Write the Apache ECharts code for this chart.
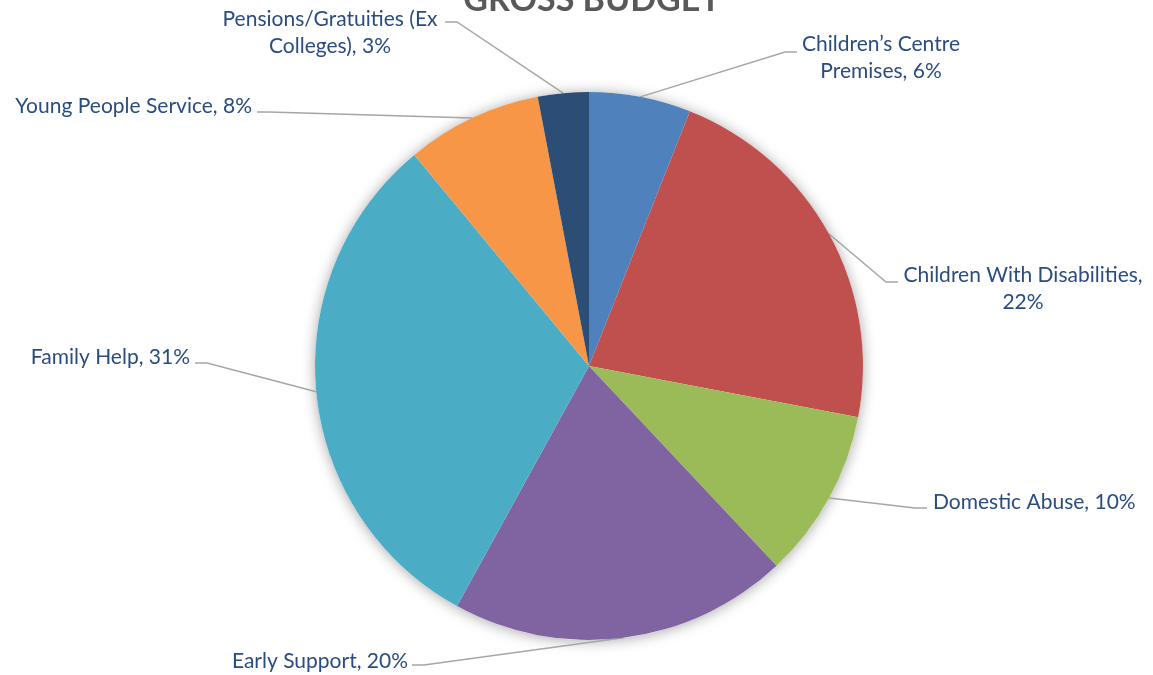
<!DOCTYPE html>
<html>
<head>
<meta charset="utf-8">
<script src="https://cdn.jsdelivr.net/npm/echarts@6/dist/echarts.min.js"></script>
<style>
  html, body { margin: 0; padding: 0; background: #ffffff; }
  #chart { width: 1153px; height: 675px; }
</style>
</head>
<body>
<div id="chart"></div>
<script>
// Gross budget split by service area (percent of total)
const categories = [
  'Children’s Centre Premises',
  'Children With Disabilities',
  'Domestic Abuse',
  'Early Support',
  'Family Help',
  'Young People Service',
  'Pensions/Gratuities (Ex Colleges)'
];
const shares = [6, 22, 10, 20, 31, 8, 3];
const sliceColors = ['#4F81BD', '#C0504D', '#9BBB59', '#8064A2', '#4BACC6', '#F79646', '#2C4D75'];

// Label placement per slice: text x, text y, alignment, leader end x, leader end y, words on first line (0 = single line)
const labelSpots = [
  [881, 58, 'center', 797, 52, 2],
  [1023, 289, 'center', 898, 282, 3],
  [933, 502, 'left', 927, 508, 0],
  [408, 661, 'right', 412, 665, 0],
  [190, 357, 'right', 195, 363, 0],
  [252, 106, 'right', 257, 112, 0],
  [330, 33, 'center', 445, 22, 2]
];

const CENTER = [589, 366];
const RADIUS = 274;

function labelText(i) {
  const words = (categories[i] + ', ' + shares[i] + '%').split(' ');
  const n = labelSpots[i][5];
  if (!n) return words.join(' ');
  return words.slice(0, n).join(' ') + '\n' + words.slice(n).join(' ');
}

const chart = echarts.init(document.getElementById('chart'), null, { renderer: 'canvas' });

chart.setOption({
  backgroundColor: '#ffffff',
  animation: false,
  title: {
    text: 'GROSS BUDGET',
    left: 587,
    textAlign: 'center',
    top: -22,
    textStyle: {
      fontFamily: 'Lato',
      fontWeight: 'bold',
      fontSize: 34,
      color: '#595959'
    }
  },
  series: [
    {
      // soft shadow disc under the pie
      type: 'pie',
      silent: true,
      z: 1,
      center: CENTER,
      radius: RADIUS,
      label: { show: false },
      labelLine: { show: false },
      itemStyle: {
        color: '#ffffff',
        shadowBlur: 14,
        shadowColor: 'rgba(0,0,0,0.35)',
        shadowOffsetX: 0,
        shadowOffsetY: 1
      },
      data: [{ value: 1 }]
    },
    {
      type: 'pie',
      z: 2,
      center: CENTER,
      radius: RADIUS,
      startAngle: 90,
      clockwise: true,
      avoidLabelOverlap: false,
      data: categories.map((name, i) => ({
        name: name,
        value: shares[i],
        itemStyle: { color: sliceColors[i] }
      })),
      itemStyle: { borderWidth: 0 },
      label: {
        show: true,
        position: 'outer',
        formatter: p => labelText(p.dataIndex),
        fontFamily: 'Lato',
        fontSize: 21,
        lineHeight: 27,
        color: '#2A4C80'
      },
      labelLine: {
        show: true,
        length: 20,
        length2: 20,
        lineStyle: { color: '#A6A6A6', width: 1.5 }
      },
      labelLayout: function (params) {
        const s = labelSpots[params.dataIndex];
        const anchor = params.labelLinePoints ? params.labelLinePoints[0] : CENTER;
        const towardPie = s[3] < CENTER[0] ? 12 : -12;
        return {
          x: s[0],
          y: s[1],
          align: s[2],
          verticalAlign: 'middle',
          labelLinePoints: [
            anchor,
            [s[3] + towardPie, s[4]],
            [s[3], s[4]]
          ]
        };
      },
      emphasis: { disabled: true }
    }
  ]
});
</script>
</body>
</html>
